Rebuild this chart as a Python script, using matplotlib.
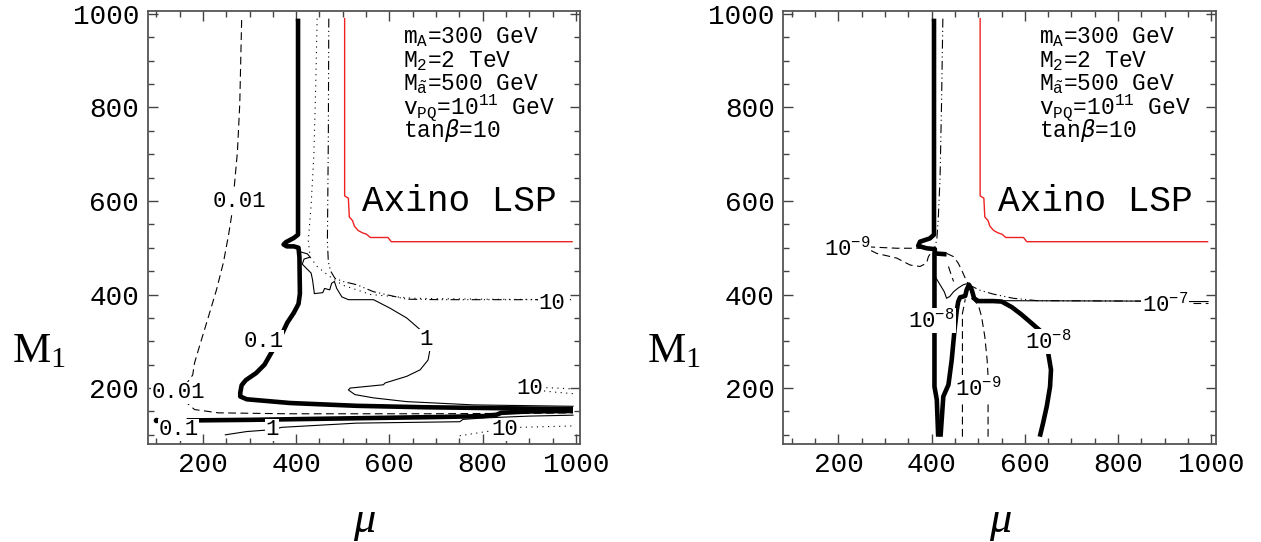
import matplotlib
matplotlib.use("Agg")
import matplotlib.pyplot as plt
from matplotlib.ticker import MultipleLocator

# ---- data (mu, M1 in GeV) ----
# Axino LSP boundary (same in both panels)
red_mu = [504, 504, 512, 514, 521, 525, 533, 542, 551, 559, 597, 604, 992]
red_m1 = [990, 611, 606, 566, 558, 546, 537, 532, 529, 522, 522, 513, 513]

# left panel: 0.1 contour (thick)
l01_mu = [404, 404, 395, 378, 373, 380, 395, 405, 407, 408, 405, 395, 381, 365, 347, 332,
          314, 292, 283, 280, 280, 294, 387, 530, 673, 994]
l01_m1 = [990, 528, 521, 512, 507, 503, 503, 500, 480, 402, 380, 361, 340, 306, 276, 250,
          232, 217, 206, 190, 182, 176, 168, 162, 159, 155]
l01b_mu = [165, 194, 300, 500, 700, 801, 830, 840, 900, 994]
l01b_m1 = [131, 131, 132, 135, 138, 140, 143, 147, 150, 151]

# left panel: 0.01 contour (dashed)
l001_mu = [283, 279, 274, 266, 262, 255, 244, 229, 211, 193, 182, 178, 165, 148, 160, 182,
           233, 380, 674, 900, 994]
l001_m1 = [987, 809, 706, 617, 572, 528, 469, 410, 350, 291, 254, 228, 210, 190, 173, 154,
           147, 145, 145, 146, 147]

# left panel: 1 contour (thin)
l1_mu = [410, 424, 430, 417, 413, 424, 432, 435, 438, 439, 457, 461, 472, 476, 482, 487, 498,
         512, 566, 601, 637, 666, 679, 687, 683, 666, 637, 591, 587, 516, 512, 526, 566, 637,
         780, 994]
l1_m1 = [491, 487, 480, 476, 465, 454, 446, 432, 410, 402, 404, 413, 410, 424, 428, 413, 395,
         389, 389, 371, 350, 325, 303, 282, 260, 239, 225, 211, 207, 200, 196, 186, 179, 171,
         164, 161]
l1b_mu = [248, 294, 348, 369, 530, 751, 758, 801, 900, 994]
l1b_m1 = [100, 107, 111, 116, 125, 128, 133, 136, 140, 142]

# left panel: 10 contours
l10a_mu = [445, 442, 438, 432, 426, 430, 445, 470, 500, 560, 650, 800, 990]
l10a_m1 = [990, 850, 700, 590, 515, 480, 460, 440, 420, 400, 392, 390, 389]
l10b_mu = [470, 469, 467, 469, 474, 483, 500, 530, 566, 637, 709, 916, 948, 980]
l10b_m1 = [990, 735, 513, 470, 450, 435, 428, 421, 406, 390, 389, 389, 385, 387]
l10c_mu = [901, 930, 960, 994]
l10c_m1 = [199, 201, 200, 198]
l10d_mu = [920, 958, 994]
l10d_m1 = [195, 191, 188]
l10e_mu = [751, 808, 848, 880, 994]
l10e_m1 = [98, 107, 111, 116, 119]

# right panel: 1e-8 contour (thick)
r8a_mu = [405, 405, 396, 375, 371, 389, 407, 406, 406, 411, 414]
r8a_m1 = [990, 528, 520, 513, 504, 499, 497, 488, 203, 175, 96]
r8b_mu = [419, 425, 436, 443, 449, 454, 457, 461, 472, 475, 480, 486, 491, 500, 532, 550, 572,
          593, 614, 629, 647, 650, 656, 654, 647, 639, 632]
r8b_m1 = [96, 182, 207, 260, 324, 367, 385, 394, 397, 410, 421, 410, 392, 386, 386, 385, 373,
          357, 339, 326, 310, 275, 239, 203, 161, 125, 96]
r8c_mu = [406, 432]
r8c_m1 = [488, 486]

# right panel: 1e-9 contours (dashed) and others
r9a_mu = [262, 325, 397, 407]
r9a_m1 = [502, 499, 499, 497]
r9b_mu = [270, 282, 325, 354, 375, 389, 393, 400]
r9b_m1 = [494, 488, 478, 463, 460, 467, 481, 492]
r9c_mu = [466, 466, 469, 472]
r9c_m1 = [96, 360, 374, 390]
r9d_mu = [521, 521, 519, 514, 507, 500, 489, 480]
r9d_m1 = [96, 225, 260, 310, 353, 378, 389, 395]
rdv_mu = [424, 421, 418, 414, 411, 404]
rdv_m1 = [990, 800, 650, 560, 517, 492]
rthin_mu = [407, 418, 427, 432, 439, 447, 457, 468, 479]
rthin_m1 = [439, 421, 406, 392, 396, 406, 414, 421, 424]
rdm_mu = [432, 447, 457, 464, 472, 479]
rdm_m1 = [488, 481, 467, 453, 435, 421]
rdm2_mu = [436, 443, 447]
rdm2_m1 = [460, 439, 428]
r7a_mu = [479, 504, 532, 575, 625, 846, 900]
r7a_m1 = [421, 409, 401, 392, 387, 386, 381]
r7b_mu = [500, 846, 955, 993]
r7b_m1 = [387, 386, 385, 385]
r7c_mu = [960, 993]
r7c_m1 = [382, 382]

info_lines = [r'm$\mathregular{_A}$=300 GeV', r'M$\mathregular{_2}$=2 TeV',
              r'M$\mathregular{_{\tilde{a}}}$=500 GeV',
              r'v$\mathregular{_{PQ}}$=10$\mathregular{^{11}}$ GeV', r'tan$\beta$=10']
info_m1 = [950, 899, 851, 800, 750]

mono = 'Liberation Mono'
thick = dict(color='black', lw=3.3, solid_capstyle='butt')
thin = dict(color='black', lw=0.8)
dash = dict(color='black', lw=0.8, dashes=(7, 4))
dot = dict(color='black', lw=0.8, dashes=(1, 4))
ddot = dict(color='black', lw=0.8, dashes=(8, 3, 1, 3, 1, 3))


def label(ax, x, y, s):
    ax.text(x, y, s, fontsize=16, fontfamily=mono, ha='center', va='center', zorder=5,
            bbox=dict(facecolor='white', edgecolor='none', pad=0.5))


def frame(ax):
    ax.set_xlim(81, 1009)
    ax.set_ylim(81, 1007)
    ax.xaxis.set_major_locator(MultipleLocator(200))
    ax.xaxis.set_minor_locator(MultipleLocator(50))
    ax.yaxis.set_major_locator(MultipleLocator(200))
    ax.yaxis.set_minor_locator(MultipleLocator(50))
    ax.tick_params(which='both', direction='in', top=True, right=True, color='#444444')
    ax.tick_params(which='major', length=7, width=1, labelsize=20, pad=6)
    ax.tick_params(which='minor', length=4, width=1)
    for lab in ax.get_xticklabels() + ax.get_yticklabels():
        lab.set_fontfamily(mono)
    for sp in ax.spines.values():
        sp.set_color('#555555')
        sp.set_linewidth(1.3)
    ax.plot(red_mu, red_m1, color='#ee2222', lw=1.0)
    for m1, s in zip(info_m1, info_lines):
        ax.text(630, m1, s, fontsize=16.5, fontfamily=mono, va='center', ha='left')
    ax.text(542, 598, 'Axino LSP', fontsize=26, fontfamily=mono, va='center', ha='left')


fig = plt.figure(figsize=(12.61, 5.42), dpi=100)
ax1 = fig.add_axes([147.5 / 1261, 1 - 443.7 / 542, 432.5 / 1261, 433 / 542])
ax2 = fig.add_axes([783 / 1261, 1 - 443.7 / 542, 432.5 / 1261, 433 / 542])

# left panel
frame(ax1)
ax1.plot(l001_mu, l001_m1, **dash)
ax1.plot(l10a_mu, l10a_m1, **dot)
ax1.plot(l10b_mu, l10b_m1, **ddot)
ax1.plot(l10c_mu, l10c_m1, **dot)
ax1.plot(l10d_mu, l10d_m1, **dot)
ax1.plot(l10e_mu, l10e_m1, **dot)
ax1.plot(l1_mu, l1_m1, **thin)
ax1.plot(l1b_mu, l1b_m1, **thin)
ax1.plot(l01_mu, l01_m1, **thick)
ax1.plot(l01b_mu, l01b_m1, **thick)
ax1.plot([99], [131], 'o', color='black', ms=3)
label(ax1, 279, 600, '0.01')
label(ax1, 330, 300, '0.1')
label(ax1, 679, 303, '1')
label(ax1, 948, 381, '10')
label(ax1, 148, 190, '0.01')
label(ax1, 901, 198, '10')
label(ax1, 148, 111, '0.1')
label(ax1, 348, 111, '1')
label(ax1, 848, 111, '10')

# right panel
frame(ax2)
ax2.plot(rdv_mu, rdv_m1, **ddot)
ax2.plot(r9a_mu, r9a_m1, **dash)
ax2.plot(r9b_mu, r9b_m1, **dash)
ax2.plot(r9c_mu, r9c_m1, **dash)
ax2.plot(r9d_mu, r9d_m1, **dash)
ax2.plot(rthin_mu, rthin_m1, **thin)
ax2.plot(rdm_mu, rdm_m1, **dash)
ax2.plot(rdm2_mu, rdm2_m1, **dash)
ax2.plot(r7a_mu, r7a_m1, **ddot)
ax2.plot(r7b_mu, r7b_m1, **thin)
ax2.plot(r7c_mu, r7c_m1, **dash)
ax2.plot(r8a_mu, r8a_m1, **thick)
ax2.plot(r8b_mu, r8b_m1, **thick)
ax2.plot(r8c_mu, r8c_m1, **thick)
label(ax2, 218, 499, r'$\mathregular{10^{-9}}$')
label(ax2, 400, 345, r'$\mathregular{10^{-8}}$')
label(ax2, 650, 300, r'$\mathregular{10^{-8}}$')
label(ax2, 500, 200, r'$\mathregular{10^{-9}}$')
label(ax2, 900, 379, r'$\mathregular{10^{-7}}$')

# axis labels
for x in (12, 647):
    fig.text(x / 1261, 1 - 362 / 542, r'$\mathregular{M_1}$', fontfamily='Liberation Serif',
             fontsize=31, ha='left', va='baseline')
for x in (364, 1000):
    fig.text(x / 1261, 1 - 532 / 542, '\u03bc', fontfamily='Liberation Serif',
             fontstyle='italic', fontsize=32, ha='center', va='baseline')

fig.savefig('out.png', dpi=100)
